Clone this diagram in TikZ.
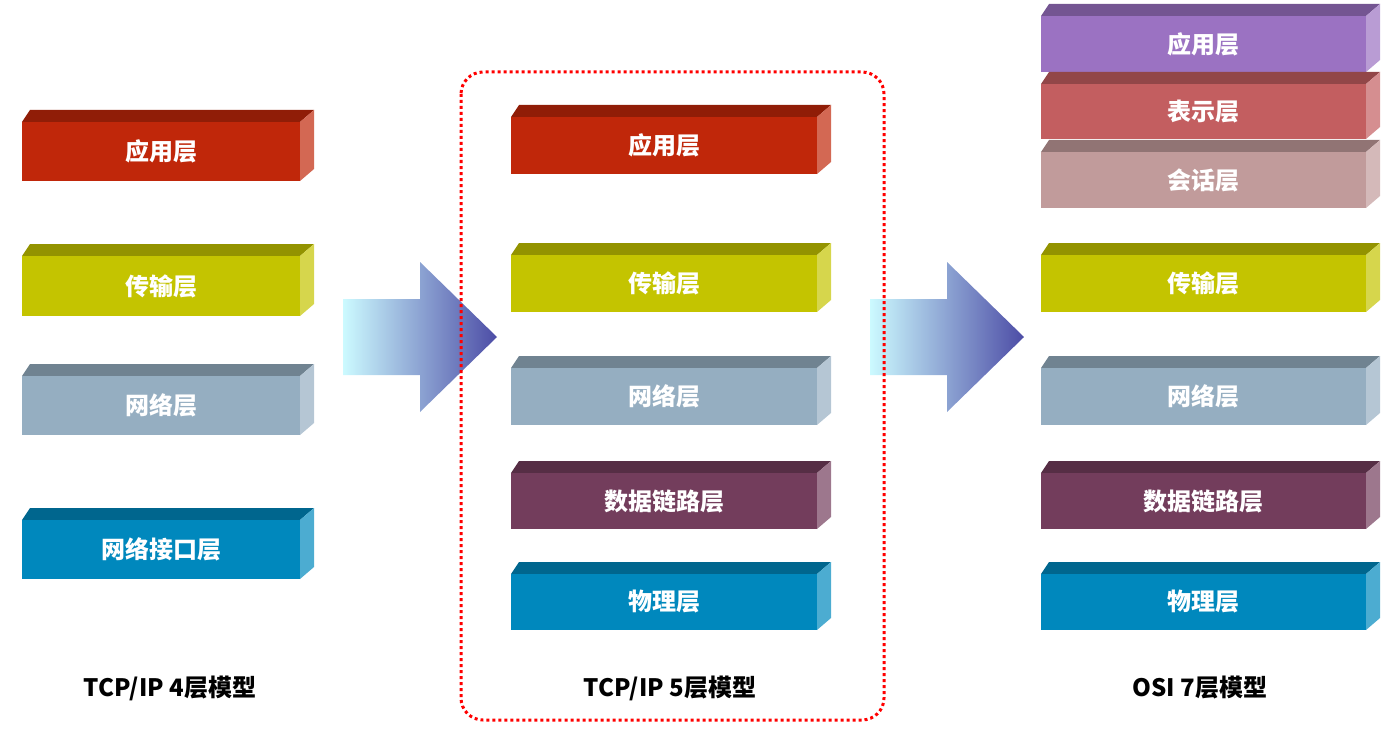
\documentclass[tikz,border=0pt]{standalone}
\usepackage{fontspec}
\setmainfont{Noto Sans CJK SC}
\definecolor{appred}{HTML}{C0270A}
\definecolor{transyel}{HTML}{C4C400}
\definecolor{netgray}{HTML}{95AEC1}
\definecolor{linkpur}{HTML}{733D5C}
\definecolor{phyblue}{HTML}{0088BD}
\definecolor{osiapp}{HTML}{9B72C2}
\definecolor{osipre}{HTML}{C35E60}
\definecolor{osises}{HTML}{C19B9B}
\tikzset{
  layertext/.style={text=white,font=\bfseries\fontsize{24}{24}\selectfont},
  modeltext/.style={text=black,font=\bfseries\fontsize{24}{24}\selectfont},
}
% #1 name, #2 x1, #3 x2, #4 top, #5 bottom, #6 colour, #7 text
\newcommand{\layerbar}[7]{
  \fill[#6!75!black] (#2,#4) -- (#2+8,#4-12) -- (#3+14,#4-12) -- (#3,#4) -- cycle;
  \fill[#6!70!white] (#3,#4) -- (#3+14,#4-12) -- (#3+14,#5-12) -- (#3,#5) -- cycle;
  \fill[#6] (#2,#4) rectangle (#3,#5);
  \node[layertext] (#1) at ({(#2+#3)/2},{(#4+#5)/2}) {#7};
}
\newcommand{\bigarrow}[2]{
  \shade[left color=blue!10!cyan!20,right color=blue!50!black!70!white]
    (#1,#2-38) -- (#1+77,#2-38) -- (#1+77,#2-75) -- (#1+154,#2) -- (#1+77,#2+75)
    -- (#1+77,#2+38) -- (#1,#2+38) -- cycle;
}
\begin{document}
\begin{tikzpicture}[x=1pt,y=-1pt]
\useasboundingbox (0,0) rectangle (1384,733);
% TCP/IP 4 layers
\layerbar{a4}{22}{300}{122}{181}{appred}{应用层}
\layerbar{t4}{22}{300}{256}{316}{transyel}{传输层}
\layerbar{n4}{22}{300}{376}{435}{netgray}{网络层}
\layerbar{i4}{22}{300}{520}{579}{phyblue}{网络接口层}
% arrows
\bigarrow{343}{337}
\bigarrow{870}{337}
% TCP/IP 5 layers
\draw[red,dashed,line width=3pt,rounded corners=22pt] (461,72) rectangle (884,720);
\layerbar{a5}{511}{817}{117}{174}{appred}{应用层}
\layerbar{t5}{511}{817}{255}{312}{transyel}{传输层}
\layerbar{n5}{511}{817}{368}{425}{netgray}{网络层}
\layerbar{d5}{511}{817}{473}{529}{linkpur}{数据链路层}
\layerbar{p5}{511}{817}{574}{630}{phyblue}{物理层}
% OSI 7 layers
\layerbar{a7}{1041}{1366}{16}{72}{osiapp}{应用层}
\layerbar{r7}{1041}{1366}{84}{139}{osipre}{表示层}
\layerbar{s7}{1041}{1366}{152}{208}{osises}{会话层}
\layerbar{t7}{1041}{1366}{255}{312}{transyel}{传输层}
\layerbar{n7}{1041}{1366}{368}{425}{netgray}{网络层}
\layerbar{d7}{1041}{1366}{473}{529}{linkpur}{数据链路层}
\layerbar{p7}{1041}{1366}{574}{630}{phyblue}{物理层}
% captions
\node[modeltext] (m4) at (170,688) {TCP/IP 4层模型};
\node[modeltext] (m5) at (670,688) {TCP/IP 5层模型};
\node[modeltext] (m7) at (1200,688) {OSI 7层模型};
\end{tikzpicture}
\end{document}
